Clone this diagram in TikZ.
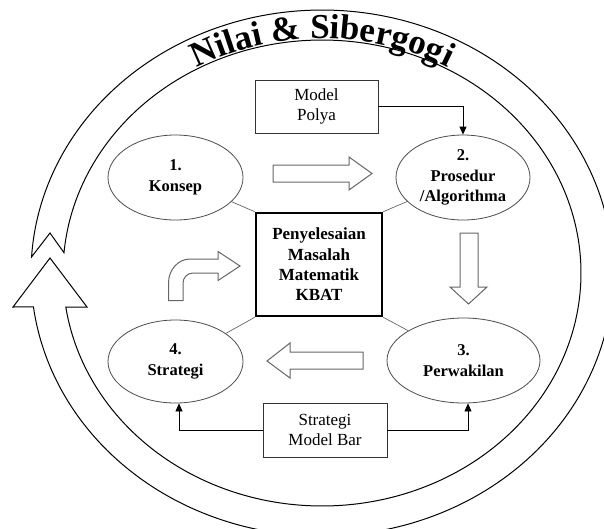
\documentclass[tikz,border=0pt]{standalone}
\usepackage{fontspec}
\setmainfont{Liberation Serif}
\usetikzlibrary{shapes.geometric,arrows.meta,decorations.text}
\begin{document}
\begin{tikzpicture}[x=1pt,y=-1pt,
  oval/.style={ellipse, draw=black!70, line width=0.8pt, inner sep=0pt, align=center, font=\fontsize{16.5}{20.5}\selectfont\bfseries},
  sidebox/.style={rectangle, draw=black!80, line width=0.8pt, inner sep=0pt, align=center, font=\fontsize{17}{20.5}\selectfont},
  hub/.style={rectangle, draw=black, line width=2.6pt, inner sep=0pt, align=center, font=\fontsize{17}{20.3}\selectfont\bfseries},
  link/.style={draw=black!60, line width=0.7pt},
  feed/.style={draw=black, line width=0.8pt, -{Triangle[length=8pt,width=7pt]}},
  blockarrow/.style={draw=black!60, fill=white, line width=1pt, line join=miter},
  ring/.style={draw=black, line width=1pt, fill=white, line join=miter}
]
\useasboundingbox (0,0) rectangle (604,528);
\clip (0,0) rectangle (604,528);
\fill[white] (0,0) rectangle (604,528);

% circular ring arrow
\draw[ring] plot[domain=183.5:532.6, samples=240, variable=\t] ({322+291*cos(\t)},{273+263*sin(\t)})
  -- (13,307) -- (50,258) -- (87,307)
  -- plot[domain=531.6:185, samples=240, variable=\t] ({322+259*cos(\t)},{273+233*sin(\t)})
  -- (50,233) -- cycle;

% title along the ring
\path[decorate, decoration={text along path, text align=center,
  text={|\fontsize{35}{35}\selectfont\bfseries|Nilai {\&} Sibergogi}}]
  plot[domain=200:340, samples=140, variable=\t] ({322+260.5*cos(\t)},{273+234.5*sin(\t)});

% nodes
\node[oval, minimum width=135pt, minimum height=85pt] (c1) at (175.5,177.5) {1.\\Konsep};
\node[oval, minimum width=134pt, minimum height=85pt] (c2) at (463,177.5) {2.\\Prosedur\\/Algorithma};
\node[oval, minimum width=153pt, minimum height=85pt] (c3) at (463.5,360.5) {3.\\Perwakilan};
\node[oval, minimum width=135pt, minimum height=83pt] (c4) at (175.5,361.5) {4.\\Strategi};
\node[hub, minimum width=126pt, minimum height=103pt] (hub) at (319,264.5) {Penyelesaian\\Masalah\\Matematik\\KBAT};
\node[sidebox, minimum width=123pt, minimum height=53pt] (polya) at (316.5,106.5) {Model\\Polya};
\node[sidebox, minimum width=124pt, minimum height=54pt] (bar) at (325,430) {Strategi\\Model Bar};

% connectors
\draw[link] (c1) -- (hub.north west);
\draw[link] (c2) -- (hub.north east);
\draw[link] (c3) -- (hub.south east);
\draw[link] (c4) -- (hub.south west);
\draw[feed] (polya.east) -| (c2.north);
\draw[feed] (bar.west) -| ([xshift=3.5pt]c4.south);
\draw[feed] (bar.east) -| ([xshift=4.5pt]c3.south);

% block arrows
\draw[blockarrow] (273,165) -- (349,165) -- (349,157) -- (372,173.5) -- (349,190) -- (349,182) -- (273,182) -- cycle;
\draw[blockarrow] (460,233) -- (478,233) -- (478,287) -- (487,287) -- (468.5,304) -- (450,287) -- (460,287) -- cycle;
\draw[blockarrow] (363,352) -- (290,352) -- (290,343) -- (267,361) -- (290,378) -- (290,369) -- (363,369) -- cycle;
\draw[blockarrow] (168.5,300.7) -- (168.5,283) .. controls (168.5,269.8) and (178.1,259) .. (190,259)
  -- (218,259) -- (218,251.5) -- (240,266) -- (218,280.5) -- (218,273) -- (193,273)
  .. controls (187.5,273) and (183,277.5) .. (183,283) -- (183,300.7) -- cycle;
\end{tikzpicture}
\end{document}
